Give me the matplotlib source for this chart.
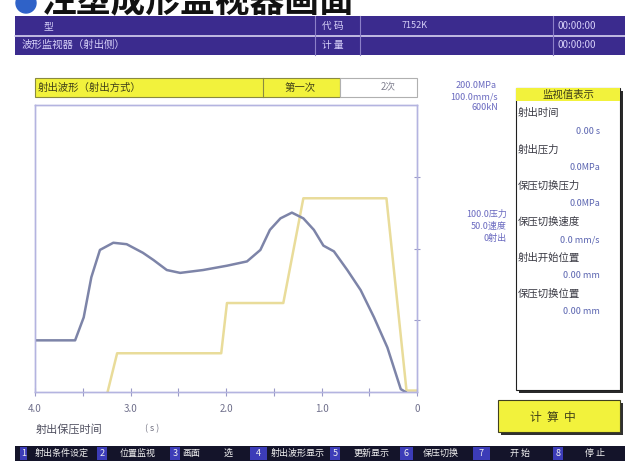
import matplotlib
matplotlib.use('Agg')
import matplotlib.pyplot as plt
from matplotlib.patches import Rectangle, Circle

plt.rcParams['font.family'] = ['Noto Sans CJK SC', 'DejaVu Sans']

# waveform data (time axis runs 4.0 -> 0 s)
press_t = [4.0, 3.58, 3.49, 3.41, 3.32, 3.18, 3.04, 2.87, 2.76, 2.62, 2.48, 2.24, 1.99,
           1.78, 1.64, 1.54, 1.43, 1.31, 1.19, 1.08, 0.98, 0.87, 0.73, 0.59, 0.45,
           0.31, 0.17, 0.12]
press_mpa = [36, 36, 52, 80, 99, 104, 103, 97, 92, 85, 83, 85, 88,
             91, 99, 113, 121, 125, 121, 113, 102, 98, 85, 71, 52,
             31, 2, 0]
speed_t = [3.24, 3.14, 2.05, 1.99, 1.40, 1.19, 0.32, 0.11, 0.0]
speed_mm = [0, 13.5, 13.5, 31, 31, 67.5, 67.5, 0.5, 0.5]

x_ticks = [4.0, 3.5, 3.0, 2.5, 2.0, 1.5, 1.0, 0.5, 0.0]
x_tick_labels = ["4.0", "", "3.0", "", "2.0", "", "1.0", "", "0"]

monitor_names = ["射出时间", "射出压力", "保压切换压力", "保压切换速度", "射出开始位置", "保压切换位置"]
monitor_values = ["0.00 s", "0.0MPa", "0.0MPa", "0.0 mm/s", "0.00 mm", "0.00 mm"]

# bottom function key bar: (x0, x1, text, is_key)
key_bar = [(20, 27, "1", True), (28, 96, "射出条件设定", False), (97, 107, "2", True),
           (109, 166, "位置监视", False), (170, 180, "3", True), (182, 200, "画面", False),
           (220, 236, "选", False), (250, 267, "4", True), (268, 328, "射出波形显示", False),
           (330, 340, "5", True), (348, 396, "更新显示", False), (400, 413, "6", True),
           (414, 468, "保压切换", False), (473, 490, "7", True), (500, 540, "开 始", False),
           (553, 563, "8", True), (572, 618, "停 止", False)]

W, H = 625, 462
YEL = '#f2f23c'
LINE = '#b4b4e0'

fig = plt.figure(figsize=(6.25, 4.62), dpi=100)
ui = fig.add_axes([0, 0, 1, 1])
ui.set_xlim(0, W)
ui.set_ylim(H, 0)
ui.axis('off')


def box(x0, y0, x1, y1, fc, ec='none', lw=0, z=1):
    ui.add_patch(Rectangle((x0, y0), x1 - x0, y1 - y0, facecolor=fc,
                           edgecolor=ec, linewidth=lw, zorder=z))


# title (cut off at the top of the screen, like the source screenshot)
ui.add_patch(Circle((26, 3), 10, color='#2f62c8', zorder=2))
ui.text(42, 12, "注塑成形监视器画面", fontsize=25, fontweight='bold', color='#111111',
        va='baseline', ha='left', zorder=3)

# header bar
box(15, 16, 625, 55, '#3b2b8e')
ui.plot([15, 625], [35.5, 35.5], color='#d8d4f0', lw=1.2, zorder=2)
for xv in [315, 360, 553]:
    ui.plot([xv, xv], [16, 55], color='#8c80c8', lw=0.8, zorder=2)
hc = '#d6d0f8'
ui.text(44, 26, "型", color=hc, fontsize=7, va='center', zorder=3)
ui.text(22, 45, "波形监视器（射出侧）", color=hc, fontsize=7.5, va='center', zorder=3)
ui.text(322, 26, "代 码", color=hc, fontsize=7, va='center', zorder=3)
ui.text(322, 45, "计 量", color=hc, fontsize=7, va='center', zorder=3)
ui.text(402, 26, "7152K", color=hc, fontsize=6.5, va='center', zorder=3)
ui.text(558, 26, "00:00:00", color=hc, fontsize=7, va='center', zorder=3)
ui.text(558, 45, "00:00:00", color=hc, fontsize=7, va='center', zorder=3)

# yellow selector bar above plot
box(35, 78, 340, 97, YEL, ec='#8a8a40', lw=0.8)
ui.plot([263, 263], [78, 97], color='#8a8a40', lw=0.8, zorder=2)
box(340, 78, 417, 97, 'white', ec='#b0b0b0', lw=0.8)
ui.text(38, 87.5, "射出波形（射出方式）", color='#404018', fontsize=7.5, va='center', zorder=3)
ui.text(300, 87.5, "第一次", color='#404018', fontsize=7.5, va='center', ha='center', zorder=3)
ui.text(388, 87.5, "2次", color='#808090', fontsize=7, va='center', ha='center', zorder=3)

# waveform plot
ax = fig.add_axes([35 / W, 1 - 392 / H, (417 - 35) / W, (392 - 105) / H])
ax2 = ax.twinx()
ax.set_zorder(ax2.get_zorder() + 1)
ax.patch.set_visible(False)

ax2.plot(speed_t, speed_mm, color='#e9dc9a', lw=1.8, solid_joinstyle='round')
ax.plot(press_t, press_mpa, color='#7d84a8', lw=1.8, solid_joinstyle='round')

ax.set_xlim(4.0, 0.0)
ax.set_ylim(0, 200)
ax2.set_ylim(0, 100)
for a in (ax, ax2):
    for s in a.spines.values():
        s.set_color(LINE)
        s.set_linewidth(1.0)
ax.set_xticks(x_ticks)
ax.set_xticklabels(x_tick_labels)
ax.tick_params(axis='x', direction='inout', length=6, color='#9a9ac8', pad=6,
               labelsize=7, labelcolor='#70708c')
ax.set_yticks([])
ax2.set_yticks([25, 50, 75])
ax2.set_yticklabels([])
ax2.tick_params(axis='y', direction='inout', length=5, color='#9a9ac8')

ui.text(36, 429, "射出保压时间", color='#505060', fontsize=8, va='center')
ui.text(145, 429, "( s )", color='#707080', fontsize=6.5, va='center')

# scale labels right of the plot
sc = '#6a6ac0'
ui.text(497, 85, "200.0MPa", color=sc, fontsize=6.5, ha='right', va='center')
ui.text(498, 97, "100.0mm/s", color=sc, fontsize=6.5, ha='right', va='center')
ui.text(498, 108, "600kN", color=sc, fontsize=6.5, ha='right', va='center')
ui.text(507, 214, "100.0压力", color=sc, fontsize=6.5, ha='right', va='center')
ui.text(507, 226, "50.0速度", color=sc, fontsize=6.5, ha='right', va='center')
ui.text(507, 238, "0射出", color=sc, fontsize=6.5, ha='right', va='center')

# monitor value panel
box(519, 91, 623, 393, '#2a2a2a')
box(516, 88, 620, 390, 'white', ec='#202020', lw=0.8, z=2)
box(516, 88, 620, 101, YEL, z=3)
ui.text(568, 94.5, "监视值表示", color='#404018', fontsize=7.5, ha='center', va='center', zorder=4)
for i, (name, val) in enumerate(zip(monitor_names, monitor_values)):
    ui.text(518, 113 + 36.2 * i, name, color='#3a3a44', fontsize=7.5, va='center', zorder=4)
    ui.text(600, 131 + 36.2 * i, val, color='#5a64b0', fontsize=6.5, ha='right', va='center', zorder=4)

# status button
box(501, 403, 623, 435, '#303030')
box(498, 400, 620, 432, YEL, ec='#404020', lw=0.8, z=2)
ui.text(553, 417, "计  算  中", color='#404018', fontsize=8.5, ha='center', va='center', zorder=3)

# bottom key bar
box(15, 446, 625, 461, '#14142a')
for x0, x1, txt, is_key in key_bar:
    if is_key:
        box(x0, 447, x1, 460, '#3c3cb8', z=2)
    ui.text((x0 + x1) / 2, 453.5, txt, color='#f0f0f0', fontsize=6.5,
            ha='center', va='center', zorder=3)

fig.savefig('out.png', dpi=100)
